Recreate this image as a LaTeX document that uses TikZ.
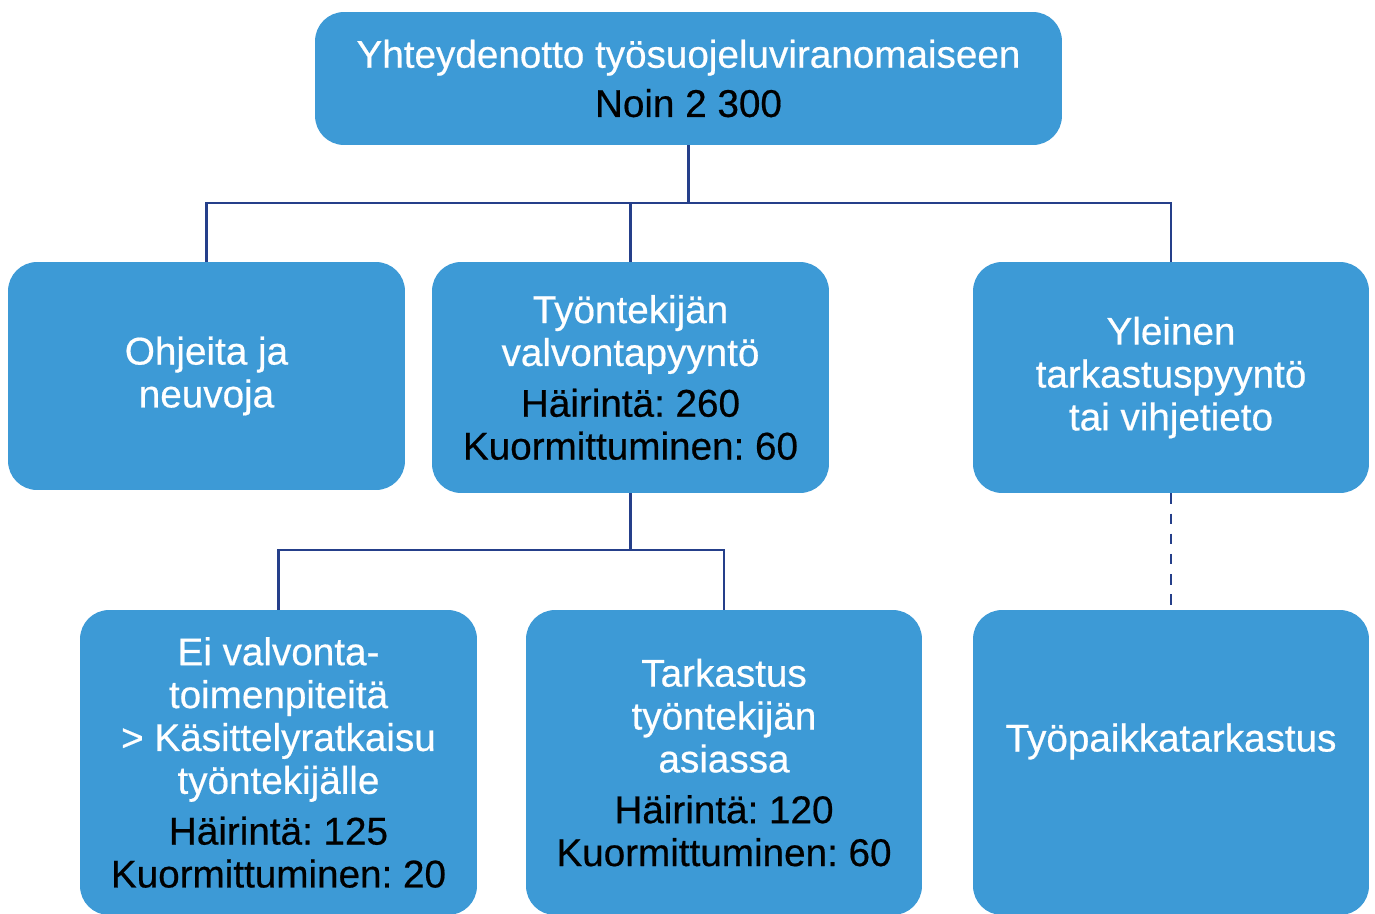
\documentclass[tikz,border=0pt]{standalone}
\usepackage{fontspec}
\setmainfont{Liberation Sans}[FakeBold=0.5]
\definecolor{boxblue}{RGB}{61,154,214}
\definecolor{linenavy}{RGB}{37,63,138}
\frenchspacing
\begin{document}
\begin{tikzpicture}[x=0.02cm,y=-0.02cm,
  boxfont/.style={font=\fontsize{22pt}{24.4pt}\selectfont, text=white, align=center},
  box/.style={fill=boxblue, draw=none, rounded corners=0.58cm,
    inner sep=0pt, boxfont},
  conn/.style={draw=linenavy, line width=1.5pt},
  dconn/.style={conn, dash pattern=on 6pt off 5.5pt}]
\useasboundingbox (0,0) rectangle (1375,913);
\node[box, minimum width=14.94cm, minimum height=2.66cm] (top) at (688.5,78.5)
  {Yhteydenotto työsuojeluviranomaiseen\\[3.6pt]\color{black}Noin 2 300};
\node[box, minimum width=7.94cm, minimum height=4.56cm] (ohj) at (206.5,376)
  {Ohjeita ja\\neuvoja};
\node[box, minimum width=7.94cm, minimum height=4.62cm] (tyo) at (630.5,377.5)
  {Työntekijän\\valvontapyyntö\\[4.5pt]\color{black}Häirintä: 260\\\color{black}Kuormittuminen: 60};
\node[box, minimum width=7.92cm, minimum height=4.62cm] (yle) at (1171,377.5)
  {Yleinen\\tarkastuspyyntö\\tai vihjetieto};
\node[box, minimum width=7.94cm, minimum height=6.1cm] (ei) at (278.5,762.5)
  {Ei valvonta-\\toimenpiteitä\\> Käsittelyratkaisu\\työntekijälle\\[4.5pt]\color{black}Häirintä: 125\\\color{black}Kuormittuminen: 20};
\node[box, minimum width=7.92cm, minimum height=6.1cm] (tark) at (724,762.5)
  {Tarkastus\\työntekijän\\asiassa\\[4.5pt]\color{black}Häirintä: 120\\\color{black}Kuormittuminen: 60};
\node[box, minimum width=7.92cm, minimum height=6.1cm] (tp) at (1171,762.5) {};
\node[boxfont, inner sep=0pt] (tptext) at ([yshift=0.42cm]tp.center) {Työpaikkatarkastus};
\coordinate (j1) at (688.5,203);
\coordinate (j2) at (630.5,550);
\draw[conn] (top.south) -- (j1);
\draw[conn] (ohj.north) |- (j1) -| (yle.north);
\draw[conn] (tyo.north) -- (tyo.north |- j1);
\draw[conn] (tyo.south) -- (j2);
\draw[conn] (ei.north) |- (j2) -| (tark.north);
\draw[dconn] (yle.south) -- (tp.north);
\end{tikzpicture}
\end{document}
